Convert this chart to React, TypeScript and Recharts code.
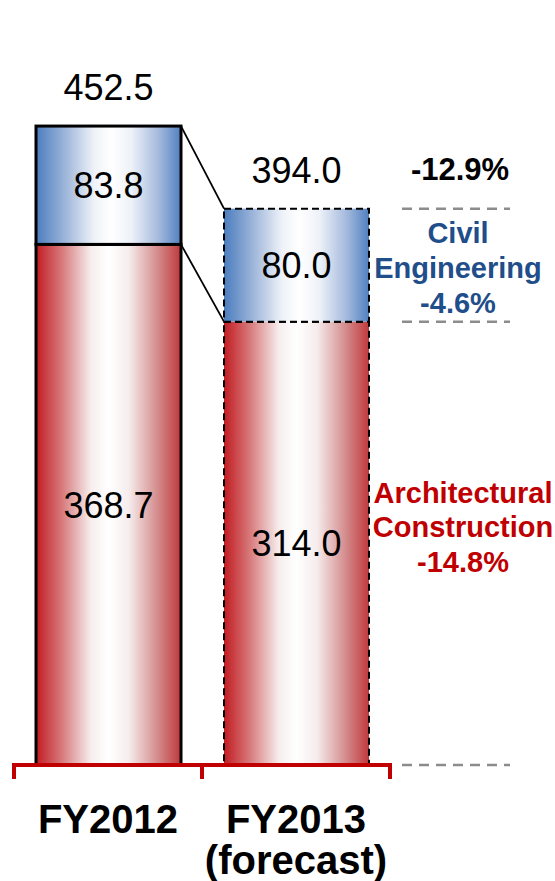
import { BarChart, Bar, XAxis, YAxis, ReferenceLine } from "recharts";

// values
const categories = ["FY2012", "FY2013"];
const subLabels = ["", "(forecast)"];
const architectural = [368.7, 314.0];
const civil = [83.8, 80.0];
const totals = categories.map((_, i) => architectural[i] + civil[i]);
const changeTotal = "-12.9%";
const changeCivil = "-4.6%";
const changeArch = "-14.8%";

const FONT = '"Liberation Sans", Arial, sans-serif';
const W = 555;
const H = 881;
const MARGIN = { top: 59, right: 165, bottom: 0, left: 14 };
const BAR_SIZE = 145;
const BAND = (W - MARGIN.left - MARGIN.right) / categories.length;
const GAP = BAND - BAR_SIZE;
const RED = "#C00000";
const BLUE = "#1F4E8A";

const data = categories.map((name, i) => ({
  name,
  arch: architectural[i],
  civil: civil[i],
}));

const makeShape = (key: "arch" | "civil") => (props: any) => {
  const { x, y, width, height, index } = props;
  const vals = key === "arch" ? architectural : civil;
  const tops = key === "arch" ? architectural : totals;
  const forecast = index === 1;
  let connector = null;
  if (index < vals.length - 1 && height > 0) {
    const ppu = height / vals[index];
    const ny = y + (tops[index] - tops[index + 1]) * ppu;
    connector = (
      <line x1={x + width} y1={y} x2={x + width + GAP} y2={ny} stroke="#000" strokeWidth={1.8} />
    );
  }
  return (
    <g>
      <rect
        x={x} y={y} width={width} height={height}
        fill={`url(#grad-${key})`}
        stroke="#000"
        strokeWidth={forecast ? 2 : 3}
        strokeDasharray={forecast ? "7 4" : undefined}
      />
      {connector}
      <text
        x={x + width / 2} y={y + height / 2 + 13}
        textAnchor="middle" fontSize={36} fontFamily={FONT} fill="#000"
      >
        {vals[index].toFixed(1)}
      </text>
      {key === "civil" && (
        <text
          x={x + width / 2} y={y - 26}
          textAnchor="middle" fontSize={36} fontFamily={FONT} fill="#000"
        >
          {totals[index].toFixed(1)}
        </text>
      )}
    </g>
  );
};

const AxisTick = (props: any) => {
  const { x, y, payload } = props;
  const off = payload?.offset ?? BAND / 2;
  const i = categories.indexOf(payload.value);
  return (
    <g>
      <line x1={x - off} y1={y - 2} x2={x - off} y2={y + 14} stroke={RED} strokeWidth={4} />
      {i === categories.length - 1 && (
        <line x1={x + off} y1={y - 2} x2={x + off} y2={y + 14} stroke={RED} strokeWidth={4} />
      )}
      <text x={x} y={y + 68} textAnchor="middle" fontSize={40} fontWeight="bold" fontFamily={FONT} fill="#000">
        {payload.value}
      </text>
      {subLabels[i] && (
        <text x={x} y={y + 109} textAnchor="middle" fontSize={40} fontWeight="bold" fontFamily={FONT} fill="#000">
          {subLabels[i]}
        </text>
      )}
    </g>
  );
};

const Dash = ({ x, y }: { x: number; y: number }) => (
  <line x1={x + 12} y1={y} x2={x + 120} y2={y} stroke="#8C8C8C" strokeWidth={2.5} strokeDasharray="10 7" />
);

const TotalGuide = (p: any) => (
  <g fontFamily={FONT} fontWeight="bold" textAnchor="middle">
    <Dash x={p.x2} y={p.y1} />
    <text x={p.x2 + 70} y={p.y1 - 29} fontSize={31} fill="#000">{changeTotal}</text>
    <text x={p.x2 + 68} y={p.y1 + 34} fontSize={29} fill={BLUE}>Civil</text>
    <text x={p.x2 + 68} y={p.y1 + 69} fontSize={29} fill={BLUE}>Engineering</text>
    <text x={p.x2 + 68} y={p.y1 + 104} fontSize={29} fill={BLUE}>{changeCivil}</text>
  </g>
);

const ArchGuide = (p: any) => (
  <g fontFamily={FONT} fontWeight="bold" textAnchor="middle">
    <Dash x={p.x2} y={p.y1} />
    <text x={p.x2 + 73} y={p.y1 + 181} fontSize={29} fill={RED}>Architectural</text>
    <text x={p.x2 + 73} y={p.y1 + 215} fontSize={29} fill={RED}>Construction</text>
    <text x={p.x2 + 73} y={p.y1 + 250} fontSize={29} fill={RED}>{changeArch}</text>
  </g>
);

const BaseGuide = (p: any) => <Dash x={p.x2} y={p.y1} />;

export default function App() {
  return (
    <div style={{ position: "absolute", left: 0, top: 0, background: "#fff" }}>
      <BarChart width={W} height={H} data={data} margin={MARGIN} barSize={BAR_SIZE}>
        <defs>
          <linearGradient id="grad-arch" x1="0" y1="0" x2="1" y2="0">
            <stop offset="0%" stopColor="#C21C22" />
            <stop offset="18%" stopColor="#D77A7C" />
            <stop offset="38%" stopColor="#F7EEEE" />
            <stop offset="50%" stopColor="#FFFFFF" />
            <stop offset="64%" stopColor="#F6ECEC" />
            <stop offset="84%" stopColor="#D48B8C" />
            <stop offset="100%" stopColor="#C0383B" />
          </linearGradient>
          <linearGradient id="grad-civil" x1="0" y1="0" x2="1" y2="0">
            <stop offset="0%" stopColor="#4B7DBE" />
            <stop offset="20%" stopColor="#9DB5DA" />
            <stop offset="40%" stopColor="#EEF2F8" />
            <stop offset="52%" stopColor="#FFFFFF" />
            <stop offset="66%" stopColor="#EDF1F8" />
            <stop offset="85%" stopColor="#A2B8DC" />
            <stop offset="100%" stopColor="#5080C0" />
          </linearGradient>
        </defs>
        <XAxis
          dataKey="name"
          height={116}
          interval={0}
          tickSize={0}
          tickMargin={0}
          axisLine={{ stroke: RED, strokeWidth: 4 }}
          tickLine={false}
          tick={<AxisTick />}
        />
        <YAxis hide type="number" domain={[0, 500]} />
        <Bar dataKey="arch" stackId="a" shape={makeShape("arch")} isAnimationActive={false} />
        <Bar dataKey="civil" stackId="a" shape={makeShape("civil")} isAnimationActive={false} />
        <ReferenceLine y={totals[1]} ifOverflow="visible" shape={TotalGuide} />
        <ReferenceLine y={architectural[1]} ifOverflow="visible" shape={ArchGuide} />
        <ReferenceLine y={0} ifOverflow="visible" shape={BaseGuide} />
      </BarChart>
    </div>
  );
}
